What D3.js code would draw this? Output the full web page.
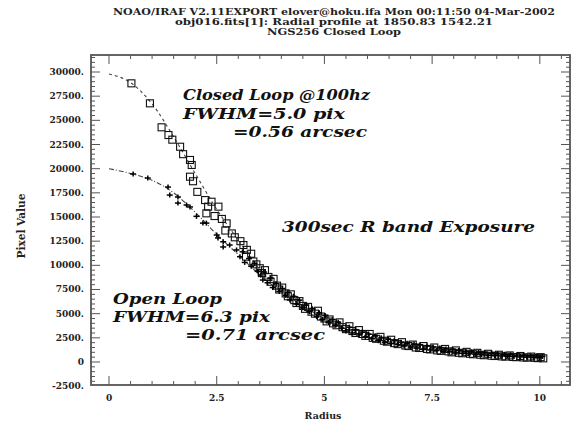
<!DOCTYPE html>
<html><head><meta charset="utf-8">
<script src="https://cdn.jsdelivr.net/npm/d3@7"></script>
<style>body{margin:0;background:#fff}svg{display:block}</style>
</head><body>
<script>
const titleLines = [
  "NOAO/IRAF V2.11EXPORT elover@hoku.ifa Mon 00:11:50 04-Mar-2002",
  "obj016.fits[1]: Radial profile at 1850.83 1542.21",
  "NGS256 Closed Loop"
];
const titleWidths = [442, 318, 134];
const xTicks = [0, 2.5, 5, 7.5, 10];
const xTickLabels = ["0", "2.5", "5", "7.5", "10"];
const yTicks = [-2500, 0, 2500, 5000, 7500, 10000, 12500, 15000, 17500, 20000, 22500, 25000, 27500, 30000];
const yTickLabels = ["-2500.", "0", "2500.", "5000.", "7500.", "10000.", "12500.", "15000.", "17500.", "20000.", "22500.", "25000.", "27500.", "30000."];

const closedR = [0.52,0.95,1.22,1.38,1.47,1.65,1.72,1.88,1.92,1.88,1.95,2.05,2.23,2.38,2.30,2.54,2.26,2.45,2.62,2.73,2.70,2.85,2.92,3.05,3.12,3.2,3.18,3.3,3.35,3.42,3.5,3.55,3.62,3.7,3.75,3.82,3.9,3.95,4.02,4.1,4.15,4.22,4.3,4.35,4.42,4.5,4.55,4.62,4.7,4.78,4.85,4.92,5.0,5.05,5.12,5.2,5.28,5.35,5.42,5.5,5.58,5.65,5.72,5.8,5.88,5.95,6.05,6.12,6.2,6.3,6.38,6.45,6.55,6.62,6.7,6.8,6.88,6.95,7.05,7.12,7.2,7.3,7.38,7.45,7.55,7.62,7.7,7.8,7.88,7.95,8.05,8.12,8.2,8.3,8.38,8.45,8.55,8.62,8.7,8.8,8.88,8.95,9.05,9.12,9.2,9.3,9.38,9.45,9.55,9.62,9.7,9.8,9.88,9.95,10.02,10.08];
const closedV = [28830,26760,24280,23480,23000,22270,21500,20900,20380,19170,18700,17600,16750,16580,16070,16070,15380,15100,14800,14340,13600,13300,12900,12500,12100,11600,10900,11200,10400,10100,9700,9200,9500,8800,8300,8600,7900,7500,7700,7100,6800,7000,6400,6100,6300,5800,5500,5700,5200,5000,5300,4700,4500,4200,4400,4000,3800,4100,3600,3400,3700,3200,3000,3300,2900,2700,2900,2500,2400,2600,2200,2100,2300,1950,1850,2050,1700,1650,1800,1500,1450,1650,1350,1300,1500,1200,1150,1350,1100,1000,1200,950,900,1050,850,800,950,750,700,850,650,620,750,580,560,680,520,500,620,470,450,560,430,400,500,380];

const openR = [0.56,0.9,1.37,1.41,1.6,1.6,1.8,1.88,2.03,2.18,2.26,2.5,2.53,2.65,2.65,2.8,2.96,3.04,3.1,3.15,3.25,3.3,3.38,3.45,3.52,3.57,3.6,3.68,3.75,3.8,3.88,3.95,4.02,4.1,4.15,4.2,4.28,4.35,4.42,4.5,4.58,4.65,4.72,4.82,4.88,4.95,5.02,5.1,5.18,5.25,5.32,5.4,5.5,5.58,5.65,5.72,5.8,5.88,5.95,6.02,6.1,6.18,6.25,6.32,6.4,6.48,6.55,6.62,6.7,6.78,6.85,6.92,7.0,7.08,7.15,7.22,7.3,7.38,7.45,7.52,7.6,7.68,7.75,7.82,7.9,7.98,8.05,8.12,8.2,8.28,8.35,8.42,8.5,8.58,8.65,8.72,8.8,8.88,8.95,9.02,9.1,9.18,9.25,9.32,9.4,9.48,9.55,9.62,9.7,9.78,9.85,9.92,10.0,10.06];
const openV = [19450,19030,18100,17270,17070,16440,16240,16040,15070,14370,14370,13140,12830,12440,11900,12100,11590,10890,11400,10300,10700,9900,10200,9400,9000,8480,9300,8200,8700,7700,8100,7300,7600,6900,7200,6410,6800,6000,6400,5600,5900,5200,5500,4690,5100,4400,4800,4100,4400,3800,4100,3500,3200,3600,3000,3300,2800,3100,2600,2900,2400,2700,2200,2500,2050,2350,1900,2200,1800,2050,1650,1950,1550,1850,1450,1750,1350,1650,1250,1550,1200,1450,1100,1350,1050,1300,950,1200,900,1100,850,1050,800,1000,750,950,700,900,650,850,620,800,600,760,560,720,530,690,500,650,470,620,450,580];

const closedFitR = [0,0.5,1,1.5,2,2.5,3,3.5,4,4.5,5,5.5,6,7,8,9,10];
const closedFitV = [29800,28900,26700,23300,19500,15800,12600,9600,7300,5500,4300,3400,2600,1700,1150,800,500];
const openFitR = [0,0.5,1,1.5,2,2.5,3,3.5,4,4.5,5,5.5,6,7,8,9,10];
const openFitV = [20000,19500,18800,17500,15500,13200,11100,9000,7300,5800,4500,3400,2600,1700,1100,750,500];

const annotations = [
  {t:"Closed Loop @100hz", x:183, y:100, w:187},
  {t:"FWHM=5.0 pix", x:183, y:119, w:162},
  {t:"=0.56 arcsec", x:233, y:137, w:134},
  {t:"300sec R band Exposure", x:282, y:232, w:253},
  {t:"Open Loop", x:113, y:304, w:109},
  {t:"FWHM=6.3 pix", x:113, y:322, w:157},
  {t:"=0.71 arcsec", x:185, y:340, w:140}
];

const W = 584, H = 425;
const L = 91, R = 570, T = 55, B = 385;
const x = d3.scaleLinear().domain([-0.418, 10.70]).range([L, R]);
const y = d3.scaleLinear().domain([-2380, 31760]).range([B, T]);

const svg = d3.select("body").append("svg").attr("width", W).attr("height", H);
const ink = "#222";

// title
svg.append("g").selectAll("text").data(titleLines).join("text")
  .attr("x", 334).attr("y", (d,i)=>15 + i*10)
  .attr("text-anchor","middle")
  .attr("textLength", (d,i)=>titleWidths[i]).attr("lengthAdjust","spacingAndGlyphs")
  .attr("font-family","DejaVu Serif").attr("font-weight","bold").attr("font-size", 9.5)
  .attr("fill", ink).text(d=>d);

// frame
svg.append("rect").attr("x",L).attr("y",T).attr("width",R-L).attr("height",B-T)
  .attr("fill","none").attr("stroke","#555").attr("stroke-width",1.8);

// ticks
const g = svg.append("g").attr("stroke","#555").attr("stroke-width",1);
const xMinor = d3.range(0, 10.51, 0.5);
xMinor.forEach(v=>{
  const major = xTicks.includes(v);
  const len = major ? 9 : 4;
  g.append("line").attr("x1",x(v)).attr("x2",x(v)).attr("y1",B).attr("y2",B-len);
  g.append("line").attr("x1",x(v)).attr("x2",x(v)).attr("y1",T).attr("y2",T+len);
});
const yMinor = d3.range(-2000, 31600, 500);
yMinor.forEach(v=>{
  const major = v % 2500 === 0;
  const len = major ? 9 : 4;
  g.append("line").attr("x1",L).attr("x2",L+len).attr("y1",y(v)).attr("y2",y(v));
  g.append("line").attr("x1",R).attr("x2",R-len).attr("y1",y(v)).attr("y2",y(v));
});

// tick labels
svg.append("g").selectAll("text").data(xTicks).join("text")
  .attr("x", d=>x(d)).attr("y", 401).attr("text-anchor","middle")
  .attr("font-family","DejaVu Serif").attr("font-weight","bold").attr("font-size",9)
  .attr("fill",ink).text((d,i)=>xTickLabels[i]);
svg.append("g").selectAll("text").data(yTicks).join("text")
  .attr("x", 84).attr("y", d=>y(d)+3).attr("text-anchor","end")
  .attr("font-family","DejaVu Serif").attr("font-weight","bold").attr("font-size",9)
  .attr("fill",ink).text((d,i)=>yTickLabels[i]);

// axis titles
svg.append("text").attr("x",323).attr("y",419).attr("text-anchor","middle")
  .attr("font-family","DejaVu Serif").attr("font-weight","bold").attr("font-size",9.5)
  .attr("fill",ink).text("Radius");
svg.append("text").attr("transform","translate(25,226) rotate(-90)").attr("text-anchor","middle")
  .attr("font-family","DejaVu Serif").attr("font-weight","bold").attr("font-size",10.5)
  .attr("fill",ink).text("Pixel Value");

// fit curves
const line = d3.line().x(d=>x(d[0])).y(d=>y(d[1])).curve(d3.curveMonotoneX);
svg.append("path").datum(closedFitR.map((r,i)=>[r, closedFitV[i]]))
  .attr("d", line).attr("fill","none").attr("stroke","#444").attr("stroke-width",1.1).attr("stroke-dasharray","3,3");
svg.append("path").datum(openFitR.map((r,i)=>[r, openFitV[i]]))
  .attr("d", line).attr("fill","none").attr("stroke","#444").attr("stroke-width",1.1).attr("stroke-dasharray","5,2,1,2");

// closed loop squares
svg.append("g").selectAll("rect").data(closedR.map((r,i)=>[r, closedV[i]])).join("rect")
  .attr("x", d=>x(d[0])-3.5).attr("y", d=>y(d[1])-3.5).attr("width",7).attr("height",7)
  .attr("fill","none").attr("stroke","#111").attr("stroke-width",1.1);

// open loop crosses
const og = svg.append("g").attr("stroke","#000").attr("stroke-width",1.5);
openR.forEach((r,i)=>{
  const cx = x(r), cy = y(openV[i]);
  og.append("line").attr("x1",cx-3).attr("x2",cx+3).attr("y1",cy).attr("y2",cy);
  og.append("line").attr("x1",cx).attr("x2",cx).attr("y1",cy-2.5).attr("y2",cy+2.5);
});

// annotations
svg.append("g").selectAll("text").data(annotations).join("text")
  .attr("x", d=>d.x).attr("y", d=>d.y)
  .attr("textLength", d=>d.w).attr("lengthAdjust","spacingAndGlyphs")
  .attr("font-family","DejaVu Serif").attr("font-weight","bold").attr("font-style","italic")
  .attr("font-size",15.5).attr("fill","#111").text(d=>d.t);
</script>
</body></html>
